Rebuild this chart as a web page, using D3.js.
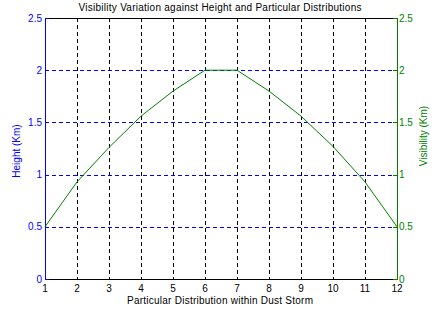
<!DOCTYPE html>
<html><head><meta charset="utf-8">
<script src="https://cdn.jsdelivr.net/npm/d3@7"></script>
<style>body{margin:0;background:#fff}svg{display:block}text{font-family:"Liberation Sans",Arial,sans-serif;font-size:10px}</style>
</head><body><svg id="c" width="434" height="311"></svg>
<script>
const xValues = [1,2,3,4,5,6,7,8,9,10,11,12];
const visibility = [0.5,0.93,1.26,1.56,1.8,2.0,2.0,1.8,1.56,1.27,0.93,0.5];
const xTicks = [1,2,3,4,5,6,7,8,9,10,11,12];
const yTicks = [0,0.5,1,1.5,2,2.5];
const title = "Visibility Variation against Height and Particular Distributions";
const xLabel = "Particular Distribution within Dust Storm";
const yLeftLabel = "Height (Km)";
const yRightLabel = "Visibility (Km)";

const L=45,R=397,T=18,B=279;
const svg=d3.select("#c");
const x=d3.scaleLinear().domain([1,12]).range([L,R]);
const y=d3.scaleLinear().domain([0,2.5]).range([B,T]);
const blue="#0000ff", green="#008000";

// grid
svg.append("g").selectAll("line").data(xTicks.slice(1,-1)).join("line")
 .attr("x1",d=>Math.round(x(d))+0.5).attr("x2",d=>Math.round(x(d))+0.5)
 .attr("y1",T).attr("y2",B).attr("stroke","#000").attr("stroke-dasharray","4,3");
svg.append("g").selectAll("line").data(yTicks.slice(1,-1)).join("line")
 .attr("y1",d=>Math.round(y(d))+0.5).attr("y2",d=>Math.round(y(d))+0.5)
 .attr("x1",L).attr("x2",R).attr("stroke",blue).attr("stroke-dasharray","4,3");

// frame
svg.append("line").attr("x1",L).attr("x2",R).attr("y1",T+0.5).attr("y2",T+0.5).attr("stroke","#000");
svg.append("line").attr("x1",L).attr("x2",R).attr("y1",B+0.5).attr("y2",B+0.5).attr("stroke","#000");
svg.append("line").attr("x1",L+0.5).attr("x2",L+0.5).attr("y1",T).attr("y2",B+1).attr("stroke",blue);
svg.append("line").attr("x1",R+0.5).attr("x2",R+0.5).attr("y1",T).attr("y2",B+1).attr("stroke",green);

// tick marks (inward)
svg.append("g").selectAll("line").data(yTicks).join("line")
 .attr("y1",d=>Math.round(y(d))+0.5).attr("y2",d=>Math.round(y(d))+0.5)
 .attr("x1",R-4).attr("x2",R).attr("stroke",green);
svg.append("g").selectAll("line").data(yTicks).join("line")
 .attr("y1",d=>Math.round(y(d))+0.5).attr("y2",d=>Math.round(y(d))+0.5)
 .attr("x1",L).attr("x2",L+4).attr("stroke",blue);

// curve
svg.append("path").datum(xValues.map((v,i)=>[v,visibility[i]]))
 .attr("d",d3.line().x(d=>x(d[0])).y(d=>y(d[1])))
 .attr("fill","none").attr("stroke",green).attr("stroke-width",1);

// tick labels
svg.append("g").selectAll("text").data(xTicks).join("text")
 .attr("x",d=>x(d)).attr("y",292).attr("text-anchor","middle").attr("fill","#000").text(d=>d);
svg.append("g").selectAll("text").data(yTicks).join("text")
 .attr("x",42).attr("y",d=>y(d)+3.5).attr("text-anchor","end").attr("fill",blue).text(d=>d);
svg.append("g").selectAll("text").data(yTicks).join("text")
 .attr("x",399).attr("y",d=>y(d)+3.5).attr("text-anchor","start").attr("fill",green).text(d=>d);

// labels
svg.append("text").attr("x",220).attr("y",11).attr("text-anchor","middle").attr("textLength",283).attr("lengthAdjust","spacing").text(title);
svg.append("text").attr("x",220).attr("y",304).attr("text-anchor","middle").attr("textLength",186).attr("lengthAdjust","spacing").text(xLabel);
svg.append("text").attr("transform","translate(20,151) rotate(-90)").attr("text-anchor","middle").attr("fill",blue).text(yLeftLabel);
svg.append("text").attr("transform","translate(427,136) rotate(-90)").attr("text-anchor","middle").attr("fill",green).text(yRightLabel);
</script></body></html>
